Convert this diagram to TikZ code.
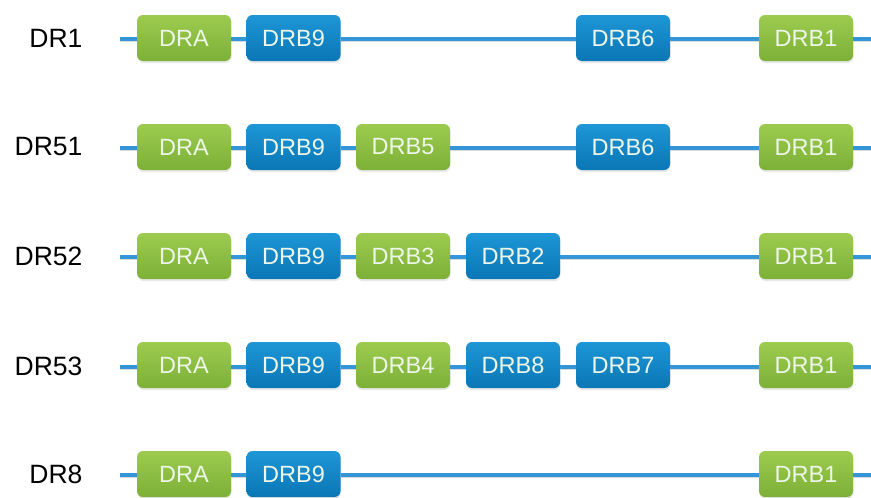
\documentclass[tikz,border=0pt]{standalone}
\usepackage{fontspec}
\setmainfont{Liberation Sans}
\usetikzlibrary{shadows}
\definecolor{gTop}{HTML}{9CCB4E}
\definecolor{gBot}{HTML}{7DB038}
\definecolor{bTop}{HTML}{1E96D6}
\definecolor{bBot}{HTML}{0A76B5}
\definecolor{wire}{HTML}{3296D8}
\definecolor{boxtext}{HTML}{EEF6EA}
\tikzset{
  gene/.style={rounded corners=6pt, minimum width=94pt, minimum height=46pt,
    inner sep=0pt, text=boxtext, font=\fontsize{23.5}{27}\selectfont,
    drop shadow={opacity=0.18, shadow xshift=0.5pt, shadow yshift=-2pt}},
  ga/.style={gene, top color=gTop, bottom color=gBot},
  gb/.style={gene, top color=bTop, bottom color=bBot},
  rowlabel/.style={anchor=east, font=\fontsize{26.5}{30}\selectfont, text=black},
  wireline/.style={draw=wire, line width=3.2pt,
    preaction={draw=black!15, line width=3pt, transform canvas={yshift=-1.8pt}}}
}
\begin{document}
\begin{tikzpicture}[x=1pt,y=-1pt]
\useasboundingbox (0,0) rectangle (871,498);
% column centres
\def\cA{184}\def\cB{293.5}\def\cC{403}\def\cD{513}\def\cE{623}\def\cF{806}
% DR1
\node[rowlabel] (l1) at (86,38) {DR1};
\coordinate (s1) at (120,39);
\coordinate (e1) at (871,39);
\node[ga] (r1a) at (\cA,38) {DRA};
\node[gb] (r1b) at (\cB,38) {DRB9};
\node[gb] (r1c) at (\cE,38) {DRB6};
\node[ga] (r1d) at (\cF,38) {DRB1};
% DR51
\node[rowlabel] (l2) at (86,147) {DR51};
\coordinate (s2) at (120,148);
\coordinate (e2) at (871,148);
\node[ga] (r2a) at (\cA,147) {DRA};
\node[gb] (r2b) at (\cB,147) {DRB9};
\node[ga] (r2c) at (\cC,147) {DRB5};
\node[gb] (r2d) at (\cE,147) {DRB6};
\node[ga] (r2e) at (\cF,147) {DRB1};
% DR52
\node[rowlabel] (l3) at (86,256) {DR52};
\coordinate (s3) at (120,257);
\coordinate (e3) at (871,257);
\node[ga] (r3a) at (\cA,256) {DRA};
\node[gb] (r3b) at (\cB,256) {DRB9};
\node[ga] (r3c) at (\cC,256) {DRB3};
\node[gb] (r3d) at (\cD,256) {DRB2};
\node[ga] (r3e) at (\cF,256) {DRB1};
% DR53
\node[rowlabel] (l4) at (86,366) {DR53};
\coordinate (s4) at (120,367);
\coordinate (e4) at (871,367);
\node[ga] (r4a) at (\cA,365) {DRA};
\node[gb] (r4b) at (\cB,365) {DRB9};
\node[ga] (r4c) at (\cC,365) {DRB4};
\node[gb] (r4d) at (\cD,365) {DRB8};
\node[gb] (r4e) at (\cE,365) {DRB7};
\node[ga] (r4f) at (\cF,365) {DRB1};
% DR8
\node[rowlabel] (l5) at (86,474) {DR8};
\coordinate (s5) at (120,475);
\coordinate (e5) at (871,475);
\node[ga] (r5a) at (\cA,474) {DRA};
\node[gb] (r5b) at (\cB,474) {DRB9};
\node[ga] (r5c) at (\cF,474) {DRB1};
% backbone wires between genes
\draw[wireline] (s1) -- (r1a.west|-s1) (r1a.east|-s1) -- (r1b.west|-s1) (r1b.east|-s1) -- (r1c.west|-s1) (r1c.east|-s1) -- (r1d.west|-s1) (r1d.east|-s1) -- (e1);
\draw[wireline] (s2) -- (r2a.west|-s2) (r2a.east|-s2) -- (r2b.west|-s2) (r2b.east|-s2) -- (r2c.west|-s2) (r2c.east|-s2) -- (r2d.west|-s2) (r2d.east|-s2) -- (r2e.west|-s2) (r2e.east|-s2) -- (e2);
\draw[wireline] (s3) -- (r3a.west|-s3) (r3a.east|-s3) -- (r3b.west|-s3) (r3b.east|-s3) -- (r3c.west|-s3) (r3c.east|-s3) -- (r3d.west|-s3) (r3d.east|-s3) -- (r3e.west|-s3) (r3e.east|-s3) -- (e3);
\draw[wireline] (s4) -- (r4a.west|-s4) (r4a.east|-s4) -- (r4b.west|-s4) (r4b.east|-s4) -- (r4c.west|-s4) (r4c.east|-s4) -- (r4d.west|-s4) (r4d.east|-s4) -- (r4e.west|-s4) (r4e.east|-s4) -- (r4f.west|-s4) (r4f.east|-s4) -- (e4);
\draw[wireline] (s5) -- (r5a.west|-s5) (r5a.east|-s5) -- (r5b.west|-s5) (r5b.east|-s5) -- (r5c.west|-s5) (r5c.east|-s5) -- (e5);
\end{tikzpicture}
\end{document}
